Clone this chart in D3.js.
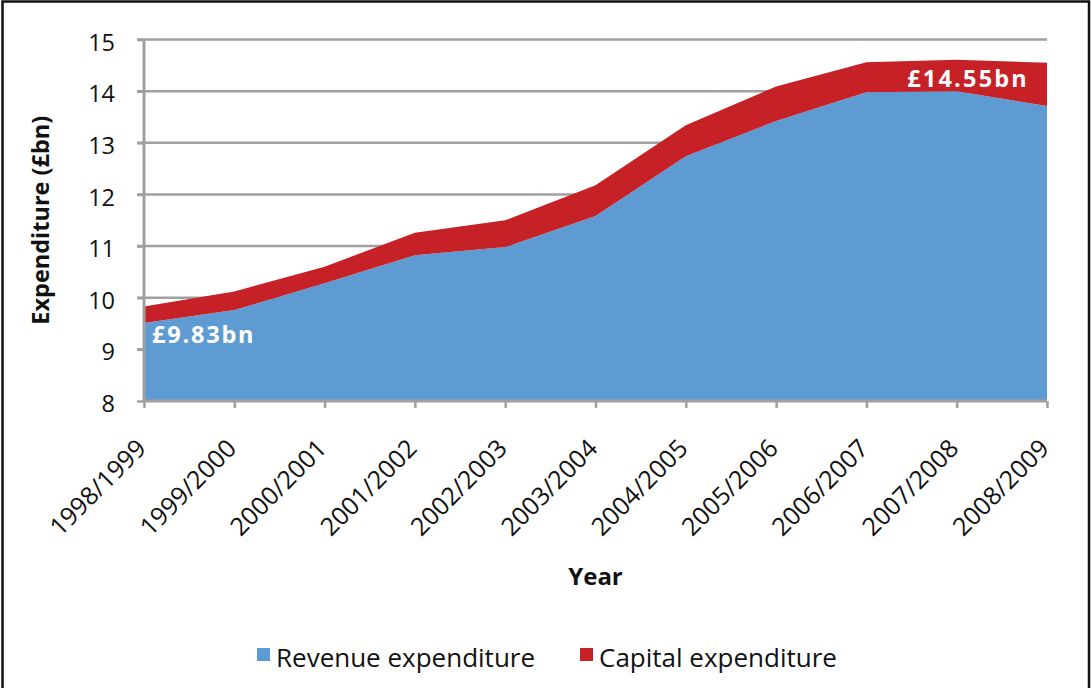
<!DOCTYPE html>
<html>
<head>
<meta charset="utf-8">
<script src="https://cdn.jsdelivr.net/npm/d3@7"></script>
<style>
  html, body { margin: 0; padding: 0; background: #fff; }
  svg { display: block; font-family: "Open Sans", "Noto Sans", sans-serif; }
</style>
</head>
<body>
<svg id="chart" width="1091" height="688"></svg>
<script>
const categories = ["1998/1999","1999/2000","2000/2001","2001/2002","2002/2003","2003/2004","2004/2005","2005/2006","2006/2007","2007/2008","2008/2009"];
const revenue = [9.51, 9.76, 10.28, 10.82, 10.98, 11.58, 12.74, 13.42, 13.98, 14.00, 13.71];
const capital = [0.32, 0.36, 0.32, 0.44, 0.52, 0.60, 0.60, 0.67, 0.58, 0.61, 0.84];
const yTicks = [8, 9, 10, 11, 12, 13, 14, 15];
const seriesNames = ["Revenue expenditure", "Capital expenditure"];
const colors = ["#5F9BD3", "#C62127"];
const labelFirst = "£9.83bn";
const labelLast = "£14.55bn";

(function () {
const svg = d3.select("#chart");
const pL = 144, pR = 1047, pT = 39.5, pB = 401;

// outer frame
svg.append("rect").attr("x", 2.5).attr("y", 1.5).attr("width", 1086.5).attr("height", 700)
  .attr("fill", "none").attr("stroke", "#111").attr("stroke-width", 2.5);

const x = d3.scalePoint().domain(categories).range([pL, pR]);
const y = d3.scaleLinear().domain([8, 15]).range([pB, pT]);

// gridlines
svg.append("g").selectAll("line").data(yTicks.slice(1)).join("line")
  .attr("x1", pL - 7).attr("x2", pR)
  .attr("y1", d => y(d)).attr("y2", d => y(d))
  .attr("stroke", "#A0A0A0").attr("stroke-width", 2.5);

// stacked data
const rows = categories.map((c, i) => ({ cat: c, rev: revenue[i], cap: capital[i] }));
const stack = d3.stack().keys(["rev", "cap"]);
const layers = stack(rows);

svg.append("clipPath").attr("id", "plotclip").append("rect")
  .attr("x", pL).attr("y", pT - 5).attr("width", pR - pL).attr("height", pB - pT + 5);

const area = d3.area()
  .x(d => x(d.data.cat))
  .y0(d => y(d[0]))
  .y1(d => y(d[1]));

svg.append("g").attr("clip-path", "url(#plotclip)")
  .selectAll("path").data(layers).join("path")
  .attr("d", area)
  .attr("fill", (d, i) => colors[i]);

// y axis
const yAxis = d3.axisLeft(y).tickValues(yTicks).tickSize(7).tickPadding(22).tickFormat(d3.format("d"));
const gy = svg.append("g").attr("transform", `translate(${pL},0)`).call(yAxis);
gy.select(".domain").attr("stroke", "#A0A0A0").attr("stroke-width", 3).attr("d", `M0,${pB}V${pT}`);
gy.selectAll(".tick line").attr("stroke", "#A0A0A0").attr("stroke-width", 2.5);
gy.selectAll(".tick text").attr("font-size", 23.5).attr("fill", "#111")
  .attr("font-family", "Open Sans").attr("dy", "0.45em");

// x axis
const xAxis = d3.axisBottom(x).tickSize(7).tickFormat(d => d);
const gx = svg.append("g").attr("transform", `translate(0,${pB})`).call(xAxis);
gx.select(".domain").attr("stroke", "#A0A0A0").attr("stroke-width", 3).attr("d", `M${pL},0H${pR}`);
gx.selectAll(".tick line").attr("stroke", "#A0A0A0").attr("stroke-width", 2.5);
gx.selectAll(".tick text")
  .attr("font-size", 25).attr("fill", "#111").attr("font-family", "Open Sans")
  .attr("text-anchor", "end")
  .attr("x", 0).attr("y", 0).attr("dy", 0)
  .attr("transform", "translate(3,49) rotate(-45)");

// axis titles
svg.append("text").attr("x", (pL + pR) / 2).attr("y", 585)
  .attr("text-anchor", "middle").attr("font-weight", "bold").attr("font-size", 24)
  .attr("fill", "#111").text("Year");
svg.append("text").attr("transform", `translate(49,${(pT + pB) / 2}) rotate(-90)`)
  .attr("text-anchor", "middle").attr("font-weight", "bold").attr("font-size", 23.5)
  .attr("fill", "#111").text("Expenditure (£bn)");

// data labels
svg.append("text").attr("x", x(categories[0]) + 8).attr("y", 343)
  .attr("fill", "#fff").attr("font-weight", "bold").attr("font-size", 23.5).attr("letter-spacing", 1.8)
  .text(labelFirst);
svg.append("text").attr("x", x(categories[categories.length - 1]) - 18).attr("y", 87)
  .attr("text-anchor", "end")
  .attr("fill", "#fff").attr("font-weight", "bold").attr("font-size", 23.5).attr("letter-spacing", 2.2)
  .text(labelLast);

// legend
const legendX = [257, 580];
const lg = svg.append("g").selectAll("g").data(seriesNames).join("g")
  .attr("transform", (d, i) => `translate(${legendX[i]},0)`);
lg.append("rect").attr("x", 0).attr("y", 648).attr("width", 13).attr("height", 13)
  .attr("fill", (d, i) => colors[i]);
lg.append("text").attr("x", 19).attr("y", 667).attr("font-size", 26).attr("fill", "#111")
  .attr("font-family", "Open Sans").text(d => d);
})();
</script>
</body>
</html>
